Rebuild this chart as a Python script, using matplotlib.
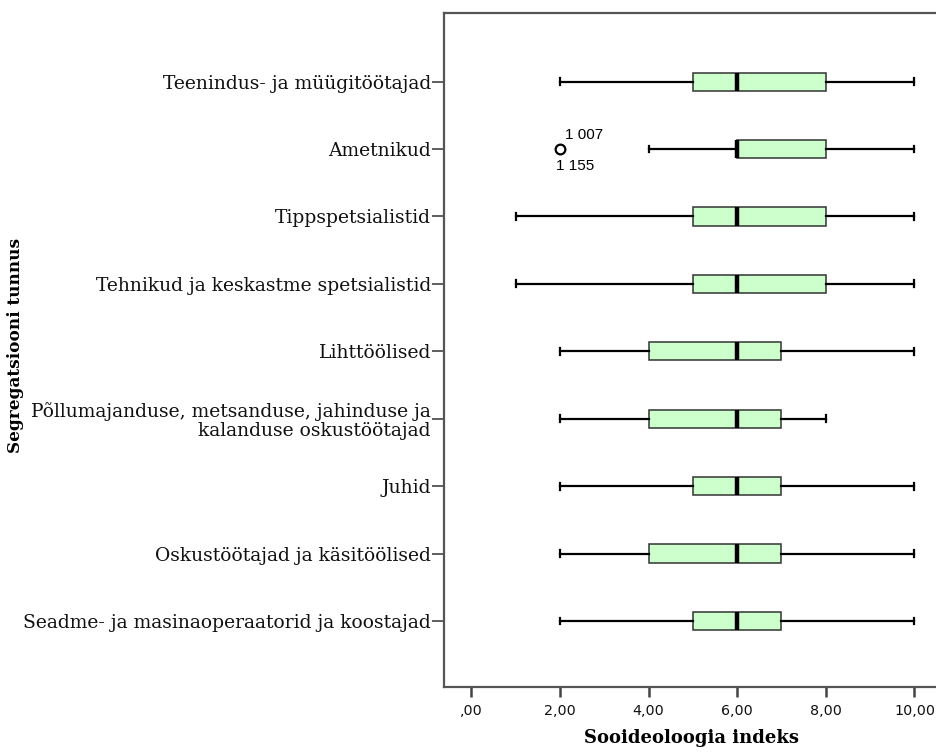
import matplotlib.pyplot as plt
import numpy as np

# Ametialade rühmad (ülevalt alla)
grupid = [
    'Teenindus- ja müügitöötajad',
    'Ametnikud',
    'Tippspetsialistid',
    'Tehnikud ja keskastme spetsialistid',
    'Lihttöölised',
    'Põllumajanduse, metsanduse, jahinduse ja\nkalanduse oskustöötajad',
    'Juhid',
    'Oskustöötajad ja käsitöölised',
    'Seadme- ja masinaoperaatorid ja koostajad',
]
vuntsid_min = [2, 4, 1, 1, 2, 2, 2, 2, 2]
kvartiil_1 = [5, 6, 5, 5, 4, 4, 5, 4, 5]
mediaan = [6, 6, 6, 6, 6, 6, 6, 6, 6]
kvartiil_3 = [8, 8, 8, 8, 7, 7, 7, 7, 7]
vuntsid_max = [10, 10, 10, 10, 10, 8, 10, 10, 10]

# erandid: (rühma indeks, väärtus, juhtumite numbrid)
erandid = [(1, 2, ['1 007', '1 155'])]

x_tikid = [0, 2, 4, 6, 8, 10]
x_tiki_tekstid = [',00', '2,00', '4,00', '6,00', '8,00', '10,00']

stats = []
for i in range(len(grupid)):
    fl = [v for (g, v, _) in erandid if g == i]
    stats.append({
        'whislo': vuntsid_min[i], 'q1': kvartiil_1[i], 'med': mediaan[i],
        'q3': kvartiil_3[i], 'whishi': vuntsid_max[i], 'fliers': fl,
    })

fig = plt.figure(figsize=(9.37, 7.55), dpi=100)
ax = fig.add_axes([0.474, 0.090, 0.528, 0.893])

pos = np.arange(1, len(grupid) + 1)
ax.bxp(stats, positions=pos, vert=False, widths=0.27, capwidths=0.1,
       patch_artist=True,
       boxprops=dict(facecolor='#ccffcc', edgecolor='#333333', linewidth=1.1),
       medianprops=dict(color='black', linewidth=3.2),
       whiskerprops=dict(color='black', linewidth=1.6),
       capprops=dict(color='black', linewidth=1.6),
       flierprops=dict(marker='o', markerfacecolor='white',
                       markeredgecolor='black', markersize=7,
                       markeredgewidth=1.6))

# juhtumite numbrid erandite juures
for g, v, nimed in erandid:
    ax.annotate(nimed[0], (v, pos[g]), xytext=(3.5, 5), textcoords='offset points',
                fontsize=11, family='Liberation Sans', ha='left', va='bottom')
    ax.annotate(nimed[1], (v, pos[g]), xytext=(-2.5, -7), textcoords='offset points',
                fontsize=11, family='Liberation Sans', ha='left', va='top')

ax.set_xlim(-0.61, 10.55)
ax.set_ylim(9.98, -0.02)
ax.set_yticks(pos)
ax.set_yticklabels(grupid, family='DejaVu Serif', fontsize=13.5, color='#111111',
                   linespacing=1.05)
ax.set_xticks(x_tikid)
ax.set_xticklabels(x_tiki_tekstid, family='DejaVu Sans', fontsize=10.3)

ax.tick_params(axis='y', length=8.5, width=1.1, pad=1, colors='#333333',
               labelcolor='#111111')
ax.tick_params(axis='x', length=7, width=1.8, pad=5, colors='#444444',
               labelcolor='#111111')

for s in ['left', 'bottom', 'top']:
    ax.spines[s].set_color('#555555')
    ax.spines[s].set_linewidth(1.6)
ax.spines['right'].set_visible(False)

ax.set_xlabel('Sooideoloogia indeks', family='DejaVu Serif', fontweight='bold',
              fontsize=13, labelpad=8)
fig.text(0.017, 0.543, 'Segregatsiooni tunnus', rotation=90, ha='center',
         va='center', family='DejaVu Serif', fontweight='bold', fontsize=12.2)

fig.savefig('out.png', dpi=100)
